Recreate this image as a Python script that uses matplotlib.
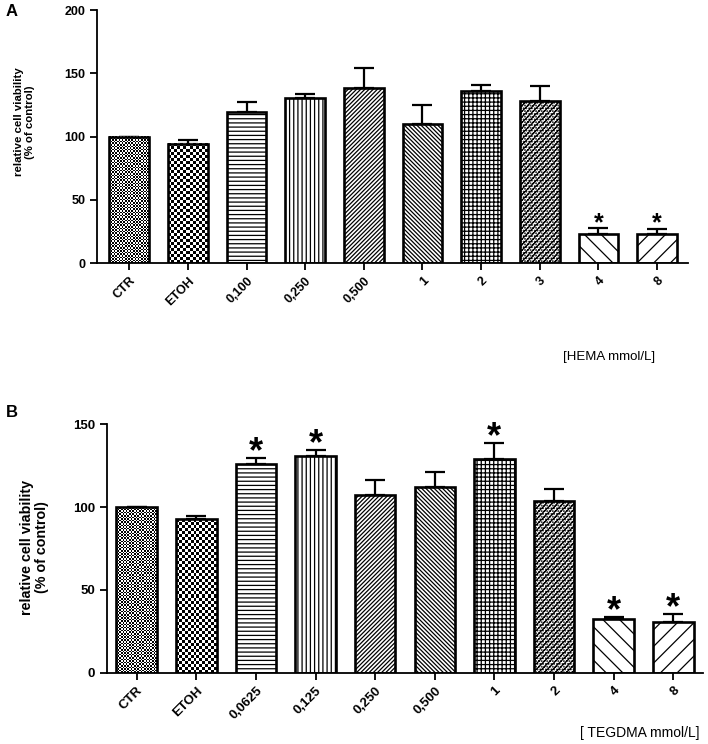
import matplotlib
matplotlib.use("Agg")
import matplotlib.pyplot as plt
import numpy as np

plt.rcParams['font.family'] = ['Liberation Sans', 'DejaVu Sans']
plt.rcParams['hatch.linewidth'] = 0.9

# panel A: HEMA
hema_labels = ["CTR", "ETOH", "0,100", "0,250", "0,500", "1", "2", "3", "4", "8"]
hema_mean = [100, 94.3, 119.7, 130.5, 138.3, 110.0, 136.0, 128.3, 22.6, 22.6]
hema_err = [0, 2.8, 7.3, 3.5, 15.7, 15.0, 5.0, 11.3, 4.7, 4.2]
hema_sig = [False, False, False, False, False, False, False, False, True, True]
hema_hatch = ["chk_fine", "chk", "----", "||||", "////////", "\\\\\\\\\\\\\\\\", "++++", "//////......", "\\\\", "//"]

# panel B: TEGDMA
teg_labels = ["CTR", "ETOH", "0,0625", "0,125", "0,250", "0,500", "1", "2", "4", "8"]
teg_mean = [100, 92.7, 126.1, 130.8, 107.2, 112.3, 128.8, 103.8, 32.2, 30.8]
teg_err = [0, 1.9, 3.3, 3.6, 9.1, 8.7, 10.0, 7.1, 1.6, 4.4]
teg_sig = [False, False, True, True, False, False, True, False, True, True]
teg_hatch = ["chk_fine", "chk", "----", "||||", "////////", "\\\\\\\\\\\\\\\\", "++++", "//////......", "\\\\", "//"]

fig = plt.figure(figsize=(7.08, 7.44), dpi=100)
axA = fig.add_axes([0.137, 0.6465, 0.835, 0.340])
axB = fig.add_axes([0.151, 0.0958, 0.842, 0.334])


def draw_panel(ax, labels, mean, err, sig, hatches, ylim, yticks, xlim,
               tick_fs, ylab_fs, star_fs, star_off, label_xy):
    x = np.arange(len(labels))
    ax.set_xlim(*xlim)
    ax.set_ylim(*ylim)
    ax.errorbar(x, mean, yerr=[np.zeros(len(err)), err], fmt='none',
                ecolor='black', elinewidth=1.6, capsize=7.5, capthick=1.6, zorder=1)
    bars = ax.bar(x, mean, width=0.68, facecolor='white', edgecolor='black',
                  linewidth=1.9, zorder=2)
    for rect, h in zip(bars, hatches):
        if h.startswith("chk"):
            # checkerboard fill, clipped to the bar
            cell = 1.6 if h == "chk_fine" else 3.0
            x0, y0 = rect.get_x(), rect.get_y()
            w, hh = rect.get_width(), rect.get_height()
            p0 = ax.transData.transform((x0, y0))
            p1 = ax.transData.transform((x0 + w, y0 + hh))
            nc = max(1, int(round((p1[0] - p0[0]) / cell)))
            nr = max(1, int(round((p1[1] - p0[1]) / cell)))
            img = np.add.outer(np.arange(nr), np.arange(nc)) % 2
            lo = 0.0 if h == "chk" else 0.15
            ax.imshow(img, cmap='gray', vmin=lo, vmax=1, extent=(x0, x0 + w, y0, y0 + hh),
                      aspect='auto', interpolation='nearest', clip_path=rect, zorder=2.5)
            rect.set_facecolor('none')
            rect.set_zorder(3)
        else:
            rect.set_hatch(h)
    ax.set_xlim(*xlim)
    ax.set_ylim(*ylim)
    for i in range(len(labels)):
        if sig[i]:
            ax.annotate('*', xy=(x[i], mean[i] + err[i]), xytext=(0, star_off),
                        textcoords='offset points', ha='center', va='baseline',
                        fontsize=star_fs, fontweight='bold')
    ax.spines['top'].set_visible(False)
    ax.spines['right'].set_visible(False)
    ax.spines['left'].set_linewidth(1.3)
    ax.spines['bottom'].set_linewidth(1.3)
    ax.set_yticks(yticks)
    ax.set_xticks(x)
    ax.set_xticklabels(labels, rotation=45, ha='right', rotation_mode='anchor',
                       fontsize=tick_fs, fontweight='bold')
    ax.tick_params(axis='both', direction='out', length=5, width=1.3, labelsize=tick_fs)
    for t in ax.get_yticklabels():
        t.set_fontweight('bold')
    ax.set_ylabel("relative cell viability\n(% of control)", fontsize=ylab_fs,
                  fontweight='bold', linespacing=1.1)
    ax.yaxis.set_label_coords(*label_xy)


draw_panel(axA, hema_labels, hema_mean, hema_err, hema_sig, hema_hatch,
           (0, 200), [0, 50, 100, 150, 200], (-0.55, 9.53),
           9, 8.2, 18, -1, (-0.105, 0.557))
draw_panel(axB, teg_labels, teg_mean, teg_err, teg_sig, teg_hatch,
           (0, 150), [0, 50, 100, 150], (-0.5, 9.5),
           9.5, 10.3, 26, -3, (-0.097, 0.505))

fig.text(655 / 708, 1 - 357 / 744, "[HEMA mmol/L]", ha='right', va='center', fontsize=9.5)
fig.text(700 / 708, 1 - 733 / 744, "[ TEGDMA mmol/L]", ha='right', va='center', fontsize=10)
fig.text(6 / 708, 1 - 11 / 744, "A", ha='left', va='center', fontsize=12, fontweight='bold')
fig.text(6 / 708, 1 - 413 / 744, "B", ha='left', va='center', fontsize=12, fontweight='bold')

fig.savefig("out.png", dpi=100)
